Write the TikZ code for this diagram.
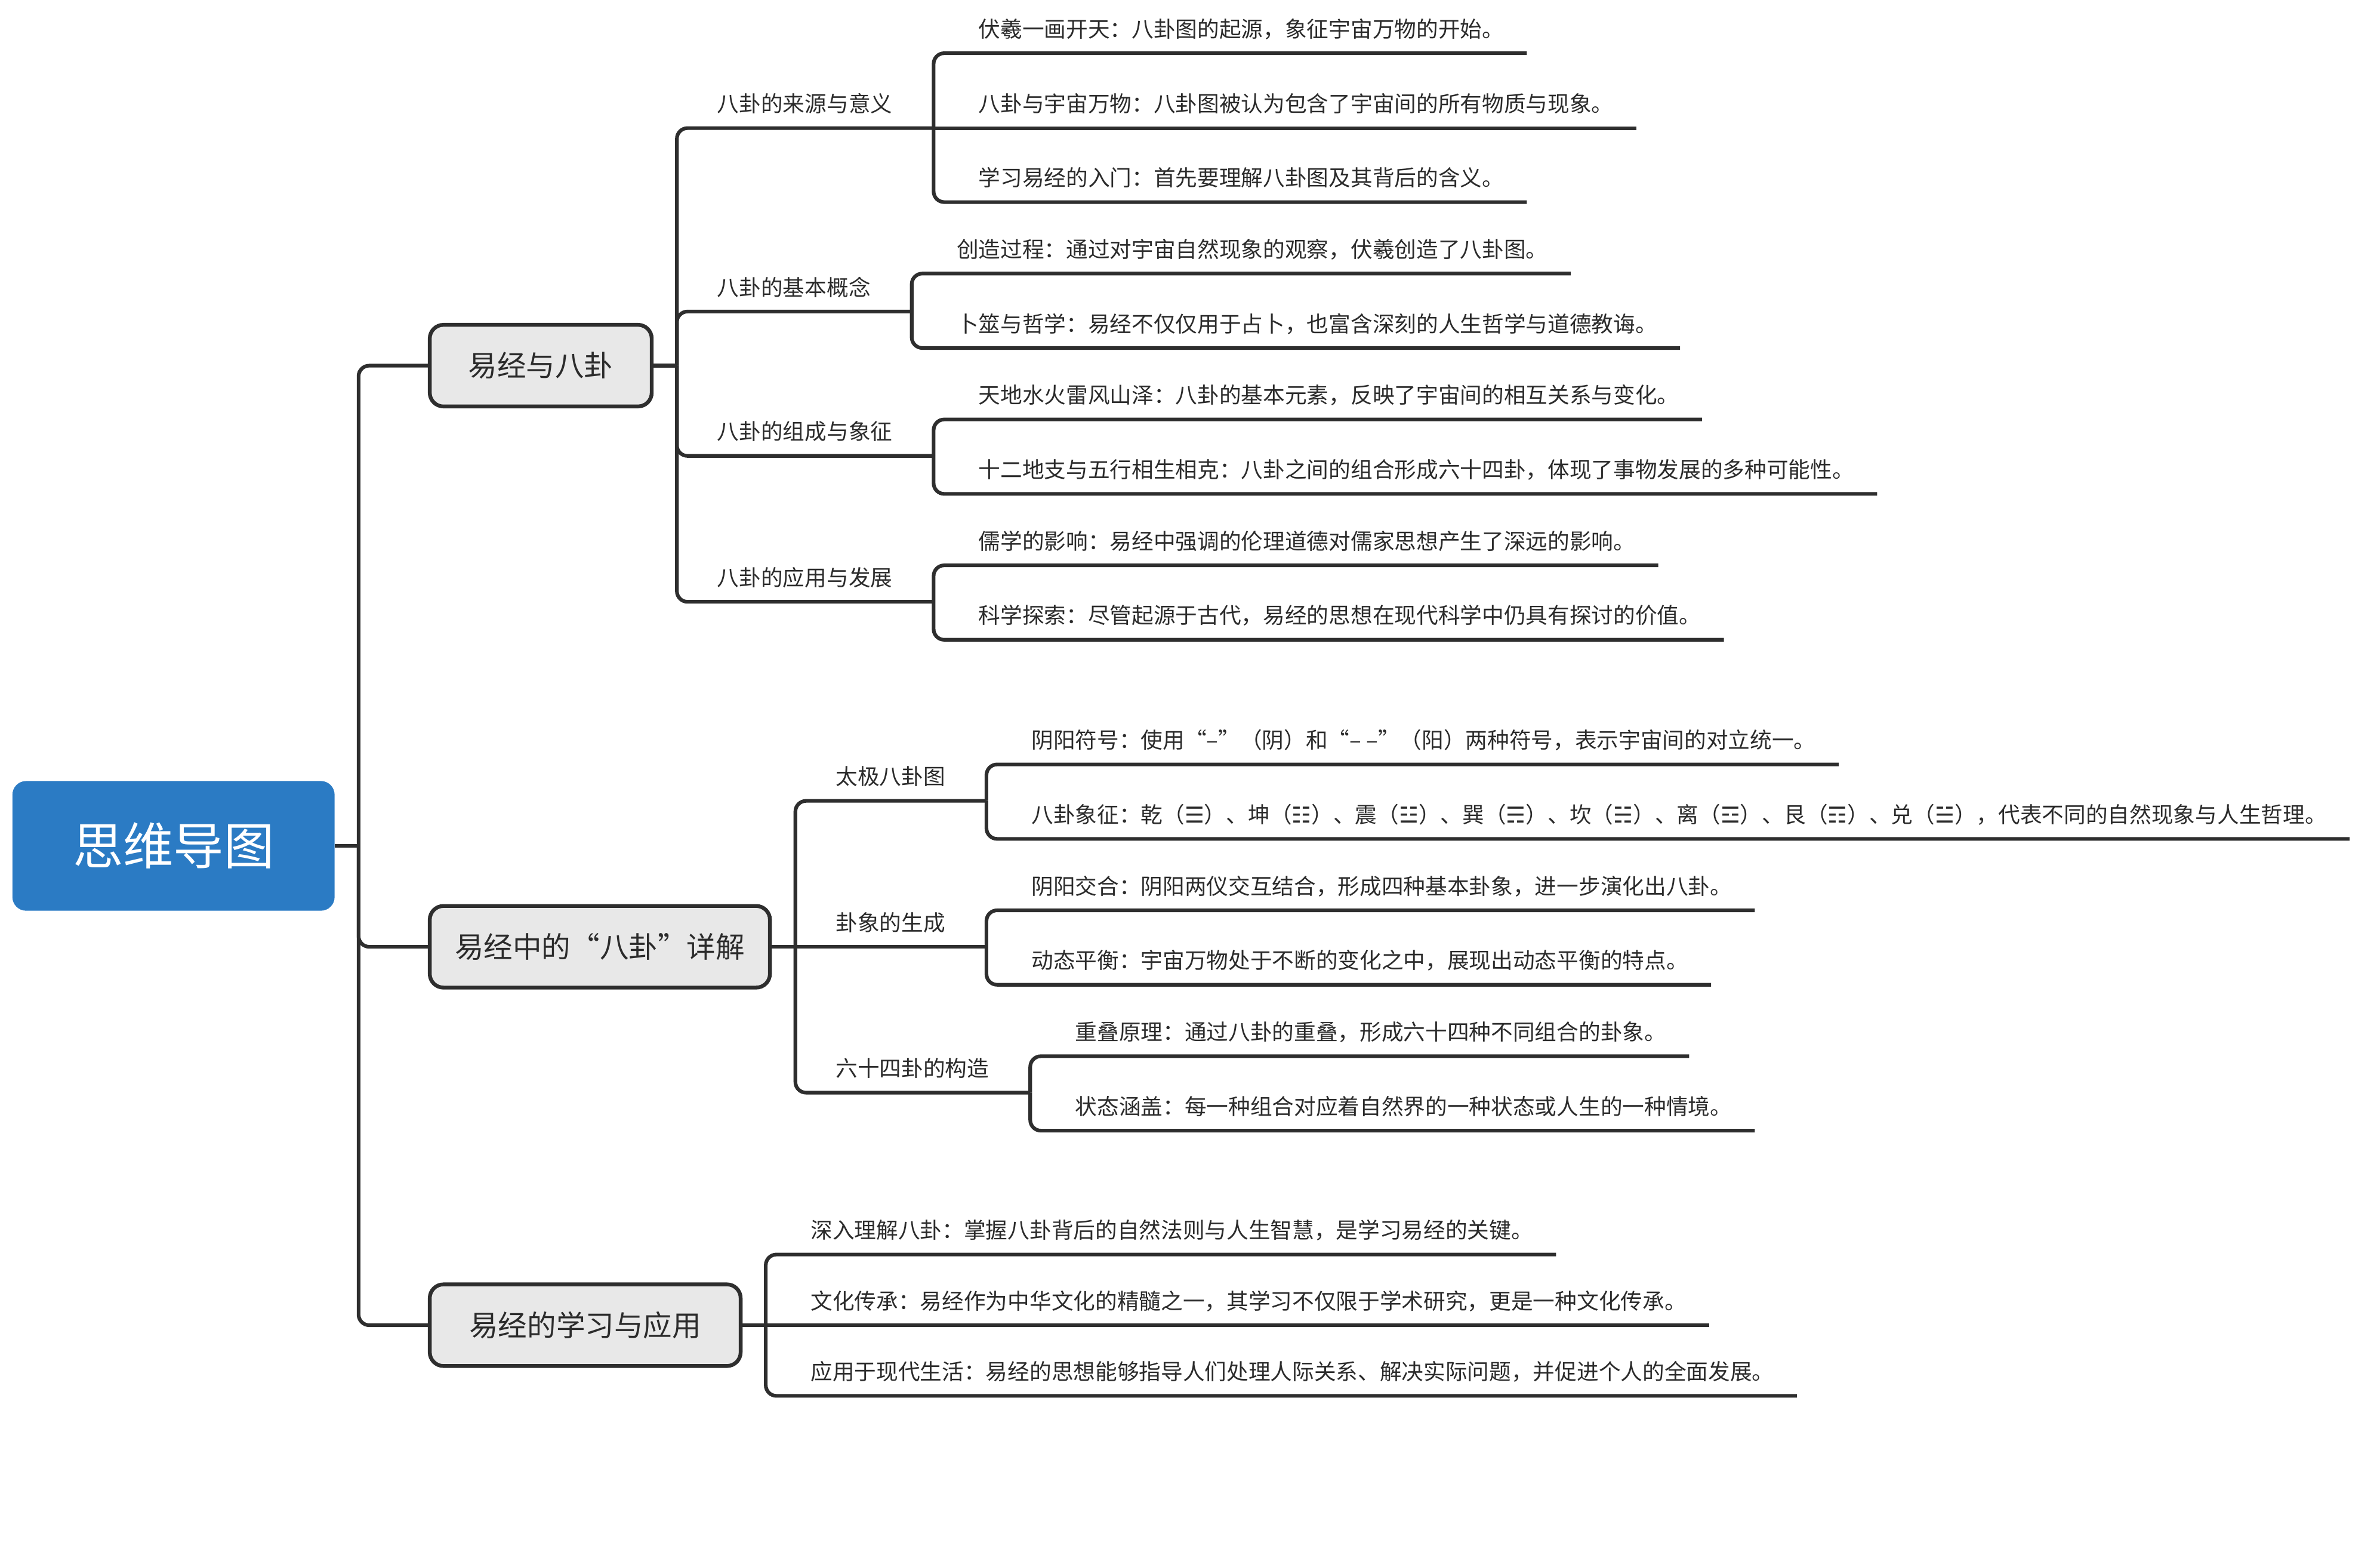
\documentclass[tikz,border=0pt]{standalone}
\usepackage{fontspec}
\setmainfont{Noto Sans CJK SC}
\newfontfamily\symf{DejaVu Sans}
\definecolor{rootblue}{HTML}{2B7BC4}
\definecolor{boxgray}{HTML}{E8E8E8}
\definecolor{linec}{HTML}{2E2E2E}
\definecolor{textc}{HTML}{2B2B2B}
\tikzset{
  conn/.style={draw=linec, line width=2.4pt},
  rc/.style={rounded corners=7pt},
  rootbox/.style={fill=rootblue, rounded corners=9pt, minimum width=211.2pt, minimum height=85pt,
    inner sep=0pt, text=white, font=\fontsize{33pt}{40pt}\selectfont},
  mainbox/.style={draw=linec, fill=boxgray, line width=2.5pt, rounded corners=9pt,
    minimum height=53.5pt, inner xsep=0pt, inner ysep=0pt, anchor=west, text=textc,
    font=\fontsize{19pt}{23pt}\selectfont},
  topicbase/.style={anchor=south west, inner sep=0pt, outer sep=0pt, text depth=10.5pt,
    text height=14pt, text=textc, font=\fontsize{14.35pt}{17pt}\selectfont},
  subt/.style={topicbase, execute at begin node={\hspace*{26.5pt}}, execute at end node={\hspace*{27pt}}},
  leaft/.style={topicbase, execute at begin node={\hspace*{29.5pt}}, execute at end node={\hspace*{15pt}}},
}
\begin{document}
\begin{tikzpicture}[x=0.996pt,y=-0.996pt]
\useasboundingbox (0pt,0pt) rectangle (1560.2pt,-1018.8pt);

% root and main boxes
\node[rootbox] (root) at (114.2,556.6) {思维导图};
\node[mainbox, minimum width=145.5pt] (b1) at (281.6,240.6) {易经与八卦};
\node[mainbox, minimum width=223pt] (b2) at (281.6,623) {易经中的“八卦”详解};
\node[mainbox, minimum width=203.8pt] (b3) at (281.6,872) {易经的学习与应用};

\coordinate (rj) at (236,556.6);
\coordinate (j1) at (445.5,240.6);
\coordinate (j2) at (523.5,623);
\coordinate (j3) at (504,872);

% branch 1
\node[subt] (s1) at (j1 |- 0,84.3) {八卦的来源与意义};
\node[subt] (s2) at (j1 |- 0,205) {八卦的基本概念};
\node[subt] (s3) at (j1 |- 0,300) {八卦的组成与象征};
\node[subt] (s4) at (j1 |- 0,396) {八卦的应用与发展};

\node[leaft] (l11) at (s1.south east |- 0,35) {伏羲一画开天：八卦图的起源，象征宇宙万物的开始。};
\node[leaft] (l12) at (s1.south east |- 0,84.3) {八卦与宇宙万物：八卦图被认为包含了宇宙间的所有物质与现象。};
\node[leaft] (l13) at (s1.south east |- 0,133) {学习易经的入门：首先要理解八卦图及其背后的含义。};
\node[leaft] (l21) at (s2.south east |- 0,180) {创造过程：通过对宇宙自然现象的观察，伏羲创造了八卦图。};
\node[leaft] (l22) at (s2.south east |- 0,229) {卜筮与哲学：易经不仅仅用于占卜，也富含深刻的人生哲学与道德教诲。};
\node[leaft] (l31) at (s3.south east |- 0,276) {天地水火雷风山泽：八卦的基本元素，反映了宇宙间的相互关系与变化。};
\node[leaft] (l32) at (s3.south east |- 0,325) {十二地支与五行相生相克：八卦之间的组合形成六十四卦，体现了事物发展的多种可能性。};
\node[leaft] (l41) at (s4.south east |- 0,372) {儒学的影响：易经中强调的伦理道德对儒家思想产生了深远的影响。};
\node[leaft] (l42) at (s4.south east |- 0,421) {科学探索：尽管起源于古代，易经的思想在现代科学中仍具有探讨的价值。};

% branch 2
\node[subt] (t1) at (j2 |- 0,527) {太极八卦图};
\node[subt] (t2) at (j2 |- 0,623) {卦象的生成};
\node[subt] (t3) at (j2 |- 0,719) {六十四卦的构造};

\node[leaft] (m11) at (t1.south east |- 0,503) {阴阳符号：使用“–”（阴）和“– –”（阳）两种符号，表示宇宙间的对立统一。};
\node[leaft] (m12) at (t1.south east |- 0,552) {八卦象征：乾（{\symf ☰}）、坤（{\symf ☷}）、震（{\symf ☳}）、巽（{\symf ☴}）、坎（{\symf ☵}）、离（{\symf ☲}）、艮（{\symf ☶}）、兑（{\symf ☱}），代表不同的自然现象与人生哲理。};
\node[leaft] (m21) at (t2.south east |- 0,599) {阴阳交合：阴阳两仪交互结合，形成四种基本卦象，进一步演化出八卦。};
\node[leaft] (m22) at (t2.south east |- 0,648) {动态平衡：宇宙万物处于不断的变化之中，展现出动态平衡的特点。};
\node[leaft] (m31) at (t3.south east |- 0,695) {重叠原理：通过八卦的重叠，形成六十四种不同组合的卦象。};
\node[leaft] (m32) at (t3.south east |- 0,744) {状态涵盖：每一种组合对应着自然界的一种状态或人生的一种情境。};

% branch 3
\node[leaft] (n1) at (j3 |- 0,825.5) {深入理解八卦：掌握八卦背后的自然法则与人生智慧，是学习易经的关键。};
\node[leaft] (n2) at (j3 |- 0,872) {文化传承：易经作为中华文化的精髓之一，其学习不仅限于学术研究，更是一种文化传承。};
\node[leaft] (n3) at (j3 |- 0,918.5) {应用于现代生活：易经的思想能够指导人们处理人际关系、解决实际问题，并促进个人的全面发展。};

% connectors: root
\draw[conn] (root.east) -- (rj);
\draw[conn,rc] (rj) |- (b1.west);
\draw[conn,rc] (rj) |- (b2.west);
\draw[conn,rc] (rj) |- (b3.west);

% connectors: branch 1
\draw[conn] (b1.east) -- (j1);
\foreach \s in {s1,s2,s3,s4} { \draw[conn,rc] (j1) |- (\s.south east); }
\draw[conn,rc] (s1.south east) |- (l11.south east);
\draw[conn] (s1.south east) -- (l12.south east);
\draw[conn,rc] (s1.south east) |- (l13.south east);
\draw[conn,rc] (s2.south east) |- (l21.south east);
\draw[conn,rc] (s2.south east) |- (l22.south east);
\draw[conn,rc] (s3.south east) |- (l31.south east);
\draw[conn,rc] (s3.south east) |- (l32.south east);
\draw[conn,rc] (s4.south east) |- (l41.south east);
\draw[conn,rc] (s4.south east) |- (l42.south east);

% connectors: branch 2
\draw[conn] (b2.east) -- (j2);
\draw[conn,rc] (j2) |- (t1.south east);
\draw[conn] (j2) -- (t2.south east);
\draw[conn,rc] (j2) |- (t3.south east);
\draw[conn,rc] (t1.south east) |- (m11.south east);
\draw[conn,rc] (t1.south east) |- (m12.south east);
\draw[conn,rc] (t2.south east) |- (m21.south east);
\draw[conn,rc] (t2.south east) |- (m22.south east);
\draw[conn,rc] (t3.south east) |- (m31.south east);
\draw[conn,rc] (t3.south east) |- (m32.south east);

% connectors: branch 3
\draw[conn] (b3.east) -- (j3);
\draw[conn,rc] (j3) |- (n1.south east);
\draw[conn] (j3) -- (n2.south east);
\draw[conn,rc] (j3) |- (n3.south east);
\end{tikzpicture}
\end{document}
